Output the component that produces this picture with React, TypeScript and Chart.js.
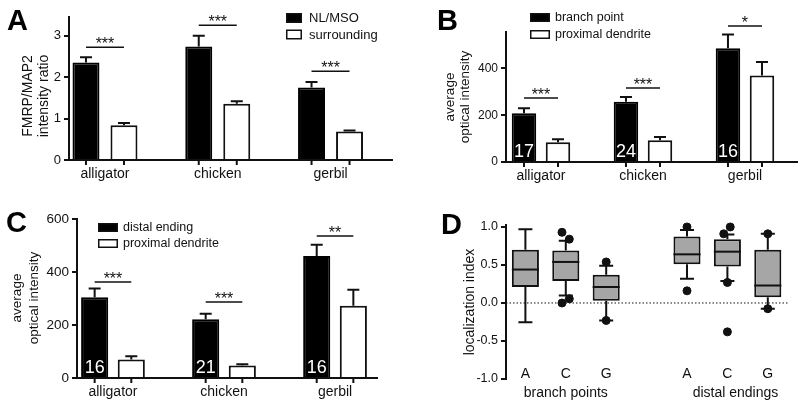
import React, { useEffect, useRef } from 'react';
import { Chart, registerables } from 'chart.js';
Chart.register(...registerables);

const FONT = '"Liberation Sans", Arial, Helvetica, sans-serif';
const INK = '#111111';

// ---------- Panel A ----------
const speciesLabels = ['alligator', 'chicken', 'gerbil'];
const aNlMso = [2.35, 2.74, 1.75];
const aNlMsoErr = [2.48, 3.0, 1.88];
const aSurround = [0.84, 1.36, 0.69];
const aSurroundErr = [0.89, 1.42, 0.71];
const aSigLevel = [2.72, 3.25, 2.14];
const aSigStars = ['***', '***', '***'];
const aYTicks = [0, 1, 2, 3];

// ---------- Panel B ----------
const bBranch = [208, 258, 487];
const bBranchErr = [230, 278, 545];
const bProx = [85, 93, 370];
const bProxErr = [97, 107, 428];
const bN = ['17', '24', '16'];
const bSigLevel = [274, 316, 582];
const bSigStars = ['***', '***', '*'];
const bYTicks = [0, 200, 400];

// ---------- Panel C ----------
const cDistal = [305, 222, 460];
const cDistalErr = [338, 242, 503];
const cProx = [70, 47, 273];
const cProxErr = [82, 52, 333];
const cN = ['16', '21', '16'];
const cSigLevel = [362, 287, 536];
const cSigStars = ['***', '***', '**'];
const cYTicks = [0, 200, 400, 600];

// ---------- Panel D ----------
const dGroups = ['A', 'C', 'G', 'A', 'C', 'G'];
const dPos = [0, 1, 2, 4, 5, 6];
const dQ1 = [0.21, 0.29, 0.03, 0.51, 0.48, 0.075];
const dMedian = [0.44, 0.54, 0.21, 0.64, 0.675, 0.23];
const dQ3 = [0.70, 0.69, 0.37, 0.875, 0.84, 0.70];
const dWhiskLo = [-0.255, 0.10, -0.23, 0.32, 0.29, -0.075];
const dWhiskHi = [0.97, 0.82, 0.49, 0.96, 0.90, 0.91];
const dOutX = [0.906, 1.087, 0.906, 1.087, 2, 2, 4, 4, 4.91, 5.07, 5, 5, 6, 6];
const dOutY = [0.93, 0.84, 0.0, 0.055, 0.54, -0.23, 1.0, 0.16, 0.91, 1.0, 0.27, -0.38, 0.91, -0.075];
const dSections = ['branch points', 'distal endings'];
const dSectionPos = [1, 5.2];
const dYTicks = [-1, -0.5, 0, 0.5, 1];

const annotPlugin = {
  id: 'annot',
  beforeDatasetsDraw(chart: any) {
    const o = chart.options.plugins.annot;
    if (!o || !o.box) return;
    const ctx = chart.ctx;
    const xs = chart.scales.x, ys = chart.scales.y;
    ctx.save();
    const y0 = ys.getPixelForValue(0);
    ctx.strokeStyle = INK;
    ctx.lineWidth = 1;
    ctx.setLineDash([1.5, 2]);
    ctx.beginPath();
    ctx.moveTo(chart.chartArea.left, y0);
    ctx.lineTo(chart.chartArea.right, y0);
    ctx.stroke();
    ctx.setLineDash([]);
    ctx.lineWidth = 2;
    dPos.forEach((p, i) => {
      const x = xs.getPixelForValue(p);
      const hi = ys.getPixelForValue(dWhiskHi[i]);
      const lo = ys.getPixelForValue(dWhiskLo[i]);
      ctx.beginPath();
      ctx.moveTo(x, ys.getPixelForValue(dQ3[i]));
      ctx.lineTo(x, hi);
      ctx.moveTo(x - o.cap / 2, hi);
      ctx.lineTo(x + o.cap / 2, hi);
      ctx.moveTo(x, ys.getPixelForValue(dQ1[i]));
      ctx.lineTo(x, lo);
      ctx.moveTo(x - o.cap / 2, lo);
      ctx.lineTo(x + o.cap / 2, lo);
      ctx.stroke();
    });
    ctx.restore();
  },
  afterDatasetsDraw(chart: any) {
    const o = chart.options.plugins.annot;
    if (!o) return;
    const ctx = chart.ctx;
    const xs = chart.scales.x, ys = chart.scales.y;
    const ca = chart.chartArea;
    ctx.save();
    ctx.fillStyle = INK;
    ctx.strokeStyle = INK;

    chart.data.datasets.forEach((ds: any, di: number) => {
      if (!ds.errTop) return;
      const meta = chart.getDatasetMeta(di);
      meta.data.forEach((el: any, i: number) => {
        const x = el.x;
        const y1 = ys.getPixelForValue(ds.errTop[i]);
        ctx.lineWidth = 2;
        ctx.beginPath();
        ctx.moveTo(x, el.y);
        ctx.lineTo(x, y1);
        ctx.moveTo(x - o.cap / 2, y1);
        ctx.lineTo(x + o.cap / 2, y1);
        ctx.moveTo(x, ca.bottom);
        ctx.lineTo(x, ca.bottom + 5);
        ctx.stroke();
      });
    });

    if (o.sig) {
      const m0 = chart.getDatasetMeta(0), m1 = chart.getDatasetMeta(1);
      o.sig.levels.forEach((lv: number, i: number) => {
        const xa = m0.data[i].x, xb = m1.data[i].x;
        const y = ys.getPixelForValue(lv);
        ctx.lineWidth = 1.5;
        ctx.beginPath();
        ctx.moveTo(xa, y);
        ctx.lineTo(xb, y);
        ctx.stroke();
        ctx.font = `${o.sig.size}px ${FONT}`;
        ctx.textAlign = 'center';
        ctx.textBaseline = 'alphabetic';
        ctx.fillText(o.sig.stars[i], (xa + xb) / 2, y + o.sig.dy);
      });
    }

    if (o.n) {
      const m0 = chart.getDatasetMeta(0);
      ctx.fillStyle = '#ffffff';
      ctx.font = `${o.n.size}px ${FONT}`;
      ctx.textAlign = 'center';
      ctx.textBaseline = 'alphabetic';
      o.n.labels.forEach((t: string, i: number) => {
        ctx.fillText(t, m0.data[i].x, ca.bottom - o.n.dy);
      });
      ctx.fillStyle = INK;
    }

    if (o.box) {
      const meta = chart.getDatasetMeta(0);
      ctx.lineWidth = 2;
      meta.data.forEach((el: any, i: number) => {
        const y = ys.getPixelForValue(dMedian[i]);
        ctx.beginPath();
        ctx.moveTo(el.x - el.width / 2, y);
        ctx.lineTo(el.x + el.width / 2, y);
        ctx.stroke();
      });
      ctx.font = `14px ${FONT}`;
      ctx.textAlign = 'center';
      ctx.textBaseline = 'alphabetic';
      dPos.forEach((p, i) => {
        ctx.fillText(dGroups[i], xs.getPixelForValue(p), o.box.letterY);
      });
      dSections.forEach((s, i) => {
        ctx.fillText(s, xs.getPixelForValue(dSectionPos[i]), o.box.sectionY);
      });
    }

    if (o.legend) {
      const L = o.legend;
      L.items.forEach((it: any, i: number) => {
        const by = L.y + i * L.gap;
        ctx.fillStyle = it.fill;
        ctx.fillRect(L.x, by, L.w, L.h);
        ctx.lineWidth = 1.5;
        ctx.strokeStyle = INK;
        ctx.strokeRect(L.x + 0.75, by + 0.75, L.w - 1.5, L.h - 1.5);
        ctx.fillStyle = INK;
        ctx.font = `${L.size}px ${FONT}`;
        ctx.textAlign = 'left';
        ctx.textBaseline = 'middle';
        ctx.fillText(it.text, L.textX, by + L.h / 2 + 0.5);
      });
    }

    if (o.ytitle) {
      const T = o.ytitle;
      ctx.font = `${T.size}px ${FONT}`;
      ctx.textAlign = 'center';
      ctx.textBaseline = 'middle';
      T.lines.forEach((ln: string, i: number) => {
        ctx.save();
        ctx.translate(T.xs[i], T.y);
        ctx.rotate(-Math.PI / 2);
        ctx.fillText(ln, 0, 0);
        ctx.restore();
      });
    }

    if (o.letter) {
      ctx.font = `bold 29px ${FONT}`;
      ctx.textAlign = 'left';
      ctx.textBaseline = 'alphabetic';
      ctx.fillStyle = '#000';
      ctx.fillText(o.letter.text, o.letter.x, o.letter.y);
    }
    ctx.restore();
  },
};

function yScale(min: number, max: number, ticks: number[], size: number, width: number, fmt?: (v: number) => string) {
  return {
    type: 'linear',
    min,
    max,
    afterBuildTicks: (s: any) => { s.ticks = ticks.map((v) => ({ value: v })); },
    afterFit: (s: any) => { s.width = width; },
    grid: { display: true, drawOnChartArea: false, drawTicks: true, tickLength: 5, color: INK, lineWidth: 2 },
    border: { display: true, color: INK, width: 2 },
    ticks: {
      color: INK,
      font: { family: FONT, size },
      padding: 3,
      callback: (v: number) => (fmt ? fmt(v) : String(v)),
    },
  };
}

function barPanel(p: any) {
  return {
    type: 'bar',
    data: {
      datasets: [
        {
          label: p.names[0],
          data: p.s0.map((v: number, i: number) => ({ x: i, y: v })),
          errTop: p.e0,
          backgroundColor: '#000',
          borderColor: '#000',
          borderWidth: 2,
          categoryPercentage: p.catPct,
          barPercentage: p.barPct,
        },
        {
          label: p.names[1],
          data: p.s1.map((v: number, i: number) => ({ x: i, y: v })),
          errTop: p.e1,
          backgroundColor: '#fff',
          borderColor: INK,
          borderWidth: 2,
          categoryPercentage: p.catPct,
          barPercentage: p.barPct,
        },
      ],
    },
    options: {
      animation: false,
      responsive: false,
      maintainAspectRatio: false,
      devicePixelRatio: 1,
      events: [],
      layout: { padding: p.pad },
      plugins: { legend: { display: false }, tooltip: { enabled: false }, annot: p.annot },
      scales: {
        x: {
          type: 'linear',
          offset: false,
          min: p.xMin,
          max: p.xMax,
          afterBuildTicks: (s: any) => { s.ticks = speciesLabels.map((_, i) => ({ value: i })); },
          afterFit: (s: any) => { s.height = 30; },
          grid: { display: false, drawTicks: false },
          border: { display: true, color: INK, width: 2 },
          ticks: {
            color: INK,
            font: { family: FONT, size: 14 },
            padding: p.labelPad,
            maxRotation: 0,
            autoSkip: false,
            callback: (v: number) => speciesLabels[v] ?? '',
          },
        },
        y: yScale(0, p.yMax, p.yTicks, p.tickSize, 40),
      },
    },
    plugins: [annotPlugin],
  };
}

const configA = barPanel({
  names: ['NL/MSO', 'surrounding'],
  s0: aNlMso, e0: aNlMsoErr, s1: aSurround, e1: aSurroundErr,
  xMin: -0.319, xMax: 2.545, catPct: 0.674, barPct: 0.71,
  yMax: 3.45, yTicks: aYTicks, tickSize: 13, labelPad: 6,
  pad: { left: 29, top: 17, right: 408, bottom: 221 },
  annot: {
    cap: 12,
    letter: { text: 'A', x: 7, y: 30 },
    ytitle: { lines: ['FMRP/MAP2', 'intensity ratio'], xs: [28, 44], y: 96, size: 14 },
    legend: { x: 286, y: 13, w: 16, h: 10, gap: 16.5, textX: 309, size: 13, items: [{ fill: '#000', text: 'NL/MSO' }, { fill: '#fff', text: 'surrounding' }] },
    sig: { levels: aSigLevel, stars: aSigStars, size: 16, dy: 2 },
  },
});

const configB = barPanel({
  names: ['branch point', 'proximal dendrite'],
  s0: bBranch, e0: bBranchErr, s1: bProx, e1: bProxErr,
  xMin: -0.343, xMax: 2.51, catPct: 0.667, barPct: 0.72,
  yMax: 556, yTicks: bYTicks, tickSize: 12, labelPad: 6,
  pad: { left: 466, top: 32, right: 3, bottom: 219 },
  annot: {
    cap: 12,
    letter: { text: 'B', x: 437, y: 30 },
    ytitle: { lines: ['average', 'optical intensity'], xs: [450, 465], y: 97, size: 13.5 },
    legend: { x: 530, y: 13, w: 20, h: 9, gap: 17, textX: 555, size: 12.5, items: [{ fill: '#000', text: 'branch point' }, { fill: '#fff', text: 'proximal dendrite' }] },
    sig: { levels: bSigLevel, stars: bSigStars, size: 16, dy: 2 },
    n: { labels: bN, size: 18, dy: 5 },
  },
});

const configC = barPanel({
  names: ['distal ending', 'proximal dendrite'],
  s0: cDistal, e0: cDistalErr, s1: cProx, e1: cProxErr,
  xMin: -0.324, xMax: 2.378, catPct: 0.66, barPct: 0.74,
  yMax: 600, yTicks: cYTicks, tickSize: 13.5, labelPad: 6,
  pad: { left: 37, top: 219, right: 423, bottom: 3 },
  annot: {
    cap: 12,
    letter: { text: 'C', x: 6, y: 232 },
    ytitle: { lines: ['average', 'optical intensity'], xs: [17, 34], y: 298, size: 13.5 },
    legend: { x: 98, y: 223, w: 20, h: 9, gap: 16, textX: 123, size: 12.5, items: [{ fill: '#000', text: 'distal ending' }, { fill: '#fff', text: 'proximal dendrite' }] },
    sig: { levels: cSigLevel, stars: cSigStars, size: 16, dy: 2 },
    n: { labels: cN, size: 18, dy: 5 },
  },
});

const configD = {
  type: 'bar',
  data: {
    datasets: [
      {
        label: 'box',
        data: dPos.map((p, i) => ({ x: p, y: [dQ1[i], dQ3[i]] })),
        backgroundColor: '#a6a6a6',
        borderColor: INK,
        borderWidth: 2,
        borderSkipped: false,
        categoryPercentage: 1,
        barPercentage: 0.67,
      },
      {
        type: 'scatter',
        label: 'outliers',
        data: dOutX.map((x, i) => ({ x, y: dOutY[i] })),
        backgroundColor: INK,
        borderColor: INK,
        pointRadius: 4,
        clip: false,
      },
    ],
  },
  options: {
    animation: false,
    responsive: false,
    maintainAspectRatio: false,
    devicePixelRatio: 1,
    events: [],
    layout: { padding: { left: 466, top: 225, right: 12, bottom: 32 } },
    plugins: {
      legend: { display: false },
      tooltip: { enabled: false },
      annot: {
        cap: 14,
        box: { letterY: 378, sectionY: 397 },
        letter: { text: 'D', x: 441, y: 234 },
        ytitle: { lines: ['localization index'], xs: [470], y: 302, size: 14 },
      },
    },
    scales: {
      x: {
        type: 'linear',
        display: false,
        offset: false,
        min: -0.48,
        max: 6.5,
        afterBuildTicks: (s: any) => { s.ticks = [0, 1, 2, 3, 4, 5, 6].map((v) => ({ value: v })); },
      },
      y: yScale(-1, 1.026, dYTicks, 12.5, 40, (v: number) => v.toFixed(1)),
    },
  },
  plugins: [annotPlugin],
};

const configs = [configA, configB, configC, configD];

function ChartCanvas({ config }: { config: any }) {
  const ref = useRef<HTMLCanvasElement | null>(null);
  useEffect(() => {
    const ch = new Chart(ref.current as HTMLCanvasElement, config);
    return () => ch.destroy();
  }, [config]);
  return (
    <canvas
      ref={ref}
      width={800}
      height={411}
      style={{ position: 'absolute', left: 0, top: 0, width: 800, height: 411 }}
    />
  );
}

export default function App() {
  return (
    <div style={{ position: 'fixed', left: 0, top: 0, width: 800, height: 411, background: '#fff', overflow: 'hidden' }}>
      {configs.map((c, i) => (
        <ChartCanvas key={i} config={c} />
      ))}
    </div>
  );
}
